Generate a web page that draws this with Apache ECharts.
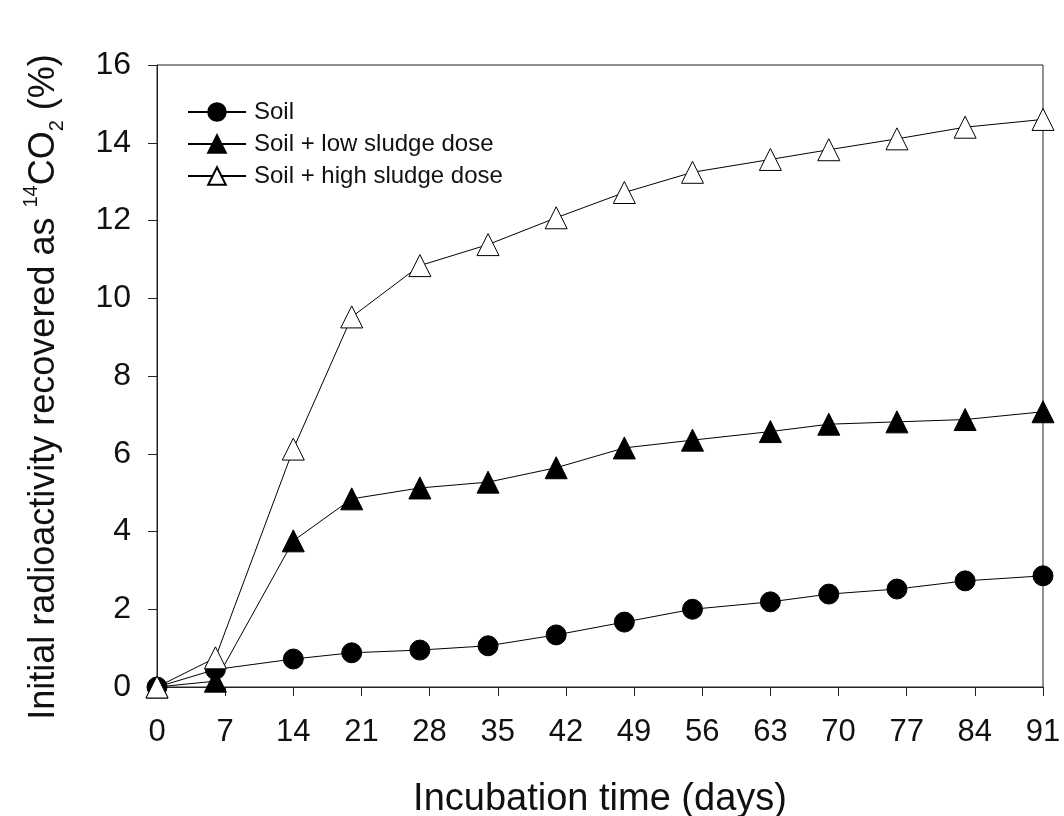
<!DOCTYPE html>
<html>
<head>
<meta charset="utf-8">
<script src="https://cdn.jsdelivr.net/npm/echarts@6/dist/echarts.min.js"></script>
<style>
  html, body { margin: 0; padding: 0; background: #fff; }
  #chart { width: 1064px; height: 816px; }
</style>
</head>
<body>
<div id="chart"></div>
<script>
(function(){
	// incubation days where samples were taken
	var days = [0, 6, 14, 20, 27, 34, 41, 48, 55, 63, 69, 76, 83, 91];
	var soil = [0, 0.45, 0.72, 0.88, 0.95, 1.06, 1.34, 1.67, 2.0, 2.19, 2.39, 2.52, 2.73, 2.86];
	var lowDose = [0, 0.15, 3.76, 4.84, 5.12, 5.27, 5.64, 6.15, 6.35, 6.57, 6.76, 6.82, 6.88, 7.08];
	var highDose = [0, 0.75, 6.12, 9.52, 10.84, 11.38, 12.07, 12.72, 13.24, 13.57, 13.82, 14.1, 14.4, 14.6];
	var xTicks = [0, 7, 14, 21, 28, 35, 42, 49, 56, 63, 70, 77, 84, 91];

	function pairs(ys){
		return days.map(function(d, i){ return [d, ys[i]]; });
	}

	var font = 'Liberation Sans, Arial, sans-serif';
	var option = {
		animation: false,
		backgroundColor: '#fff',
		textStyle: { fontFamily: font },
		grid: {
			left: 157, right: 21, top: 65, bottom: 129,
			outerBoundsMode: 'none',
			show: true, borderColor: '#222', borderWidth: 1
		},
		legend: {
			orient: 'vertical',
			left: 182, top: 95,
			itemWidth: 58, itemHeight: 22, itemGap: 8,
			textStyle: { fontFamily: font, fontSize: 24, color: '#111', padding: [0, 0, 0, 3] },
			data: ['Soil', 'Soil + low sludge dose', 'Soil + high sludge dose']
		},
		xAxis: {
			type: 'value',
			min: 0, max: 91, interval: 7,
			name: 'Incubation time (days)',
			nameLocation: 'middle',
			nameGap: 94,
			nameTextStyle: { fontFamily: font, fontSize: 38, color: '#111' },
			axisLine: { lineStyle: { color: '#222', width: 1 } },
			axisTick: { show: true, inside: false, length: 9, lineStyle: { color: '#222' } },
			axisLabel: {
				fontFamily: font, fontSize: 31, color: '#111', margin: 30,
				customValues: xTicks
			},
			splitLine: { show: false }
		},
		yAxis: {
			type: 'value',
			min: 0, max: 16, interval: 2,
			name: 'Initial radioactivity recovered as {sup|14}CO{sub|2} (%)',
			nameLocation: 'middle',
			nameRotate: 90,
			nameGap: 90,
			nameTextStyle: {
				fontFamily: font, fontSize: 36, color: '#111', lineHeight: 46,
				padding: [0, 22, 0, 0],
				rich: {
					sup: { fontFamily: font, fontSize: 20, color: '#111', verticalAlign: 'top', lineHeight: 46 },
					sub: { fontFamily: font, fontSize: 20, color: '#111', verticalAlign: 'bottom', lineHeight: 46 }
				}
			},
			axisLine: { show: true, lineStyle: { color: '#222', width: 1 } },
			axisTick: { show: true, inside: false, length: 9, lineStyle: { color: '#222' } },
			axisLabel: { fontFamily: font, fontSize: 32, color: '#111', margin: 26 },
			splitLine: { show: false }
		},
		series: [
			{
				name: 'Soil',
				type: 'line',
				data: pairs(soil),
				symbol: 'circle',
				symbolSize: 20,
				clip: false,
				lineStyle: { color: '#000', width: 1 },
				itemStyle: { color: '#000', borderColor: '#000', borderWidth: 1 }
			},
			{
				name: 'Soil + low sludge dose',
				type: 'line',
				data: pairs(lowDose),
				symbol: 'triangle',
				symbolSize: 22,
				clip: false,
				lineStyle: { color: '#000', width: 1 },
				itemStyle: { color: '#000', borderColor: '#000', borderWidth: 1 }
			},
			{
				name: 'Soil + high sludge dose',
				type: 'line',
				data: pairs(highDose),
				symbol: 'triangle',
				symbolSize: 22,
				clip: false,
				lineStyle: { color: '#000', width: 1 },
				itemStyle: { color: '#fff', borderColor: '#000', borderWidth: 1 }
			}
		]
	};
	var chart = echarts.init(document.getElementById('chart'));
	chart.setOption(option);
})();
</script>
</body>
</html>
